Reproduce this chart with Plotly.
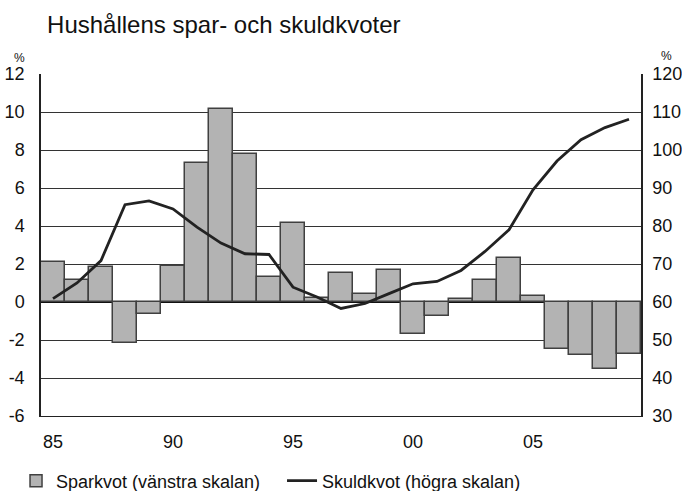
import plotly.graph_objects as go

years = list(range(1985, 2010))
sparkvot = [2.10, 1.14, 1.84, -2.15, -0.65, 1.89, 7.34, 10.16, 7.81, 1.31,
            4.14, 0.23, 1.52, 0.40, 1.71, -1.70, -0.73, 0.14, 1.17, 2.29,
            0.31, -2.46, -2.78, -3.51, -2.73]
skuldkvot = [60.9, 65.0, 70.9, 85.6, 86.6, 84.5, 79.7, 75.5, 72.7, 72.5,
             63.9, 61.3, 58.3, 59.6, 62.2, 64.8, 65.4, 68.3, 73.3, 79.0,
             89.5, 97.1, 102.7, 105.9, 108.1]
x_tickvals = [1985, 1990, 1995, 2000, 2005]
x_ticktext = ["85", "90", "95", "00", "05"]
left_ticks = [-6, -4, -2, 0, 2, 4, 6, 8, 10, 12]
left_ticktext = ["-6", "-4", "-2", "0", "2", "4", "6", "8", "10", "12"]
right_ticks = [30, 40, 50, 60, 70, 80, 90, 100, 110, 120]

FONT = "Liberation Sans, Arial, sans-serif"

fig = go.Figure()
fig.add_trace(go.Bar(
    x=years, y=sparkvot, name="Sparkvot (vänstra skalan)",
    marker=dict(color="#b3b3b3", line=dict(color="#404040", width=1.5)),
    yaxis="y",
))
fig.add_trace(go.Scatter(
    x=years, y=skuldkvot, name="Skuldkvot (högra skalan)", mode="lines",
    line=dict(color="#222222", width=2.8), yaxis="y2",
))

fig.update_layout(
    width=682, height=491,
    margin=dict(l=41, r=41, t=74, b=75),
    paper_bgcolor="white", plot_bgcolor="white",
    font=dict(family=FONT, size=18, color="#111111"),
    bargap=0,
    title=dict(text="Hushållens spar- och skuldkvoter", x=0.069, xanchor="left",
               y=0.949, yanchor="middle", font=dict(size=24, family=FONT, color="#111111")),
    xaxis=dict(range=[1984.5, 2009.5], tickvals=x_tickvals, ticktext=x_ticktext,
               showgrid=False, showline=True, linecolor="#222222", linewidth=1,
               ticks="", ticklabelstandoff=9, zeroline=False, automargin=False),
    yaxis=dict(range=[-6, 12], tickvals=left_ticks, ticktext=left_ticktext,
               showgrid=True, gridcolor="#333333",
               gridwidth=1, zeroline=True, zerolinecolor="#111111", zerolinewidth=2,
               showline=True, linecolor="#222222", linewidth=1.5, ticks="",
               ticklabelstandoff=11, automargin=False),
    yaxis2=dict(range=[30, 120], tickvals=right_ticks, overlaying="y", side="right",
                showgrid=False, zeroline=False, showline=True, linecolor="#222222",
                linewidth=1.5, ticks="", ticklabelstandoff=6, automargin=False),
    legend=dict(orientation="h", xref="container", yref="container",
                x=0.0235, xanchor="left", y=0.0204, yanchor="middle",
                entrywidth=221, font=dict(size=18, family=FONT), bgcolor="rgba(0,0,0,0)"),
    annotations=[
        dict(text="%", xref="paper", yref="paper", x=-0.035, y=1.0, xanchor="center",
             yanchor="middle", yshift=16, showarrow=False, font=dict(size=12, family=FONT)),
        dict(text="%", xref="paper", yref="paper", x=1.042, y=1.0, xanchor="center",
             yanchor="middle", yshift=18, showarrow=False, font=dict(size=12, family=FONT)),
    ],
)

fig.write_html("out.html", config={"displayModeBar": False},
               post_script="document.body.style.margin='0px';")
